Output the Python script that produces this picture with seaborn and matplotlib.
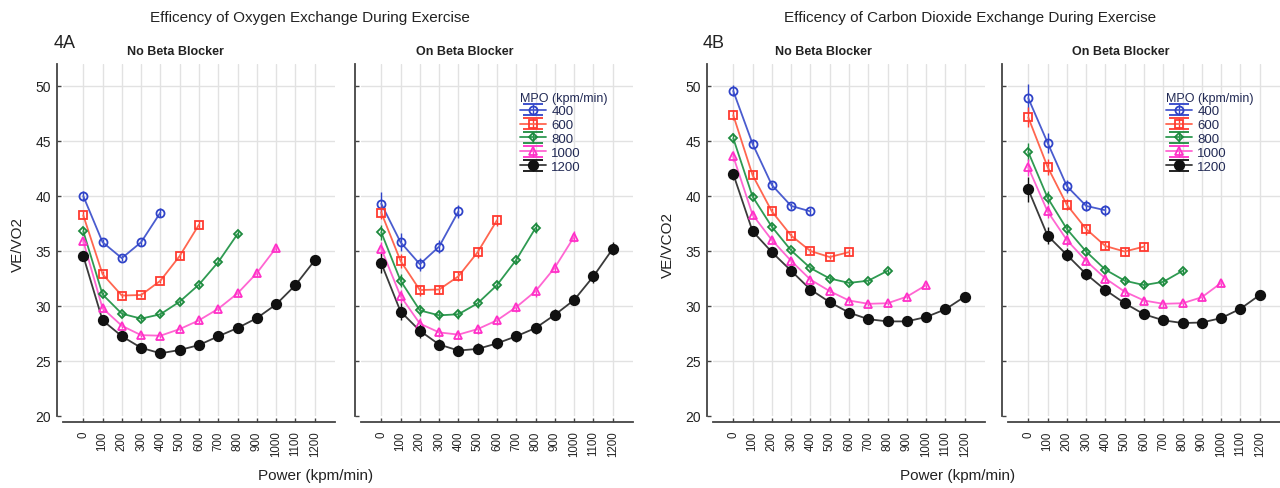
import numpy as np
import pandas as pd
import matplotlib
matplotlib.use("Agg")
import matplotlib.pyplot as plt
from matplotlib.container import ErrorbarContainer
from matplotlib.legend_handler import HandlerErrorbar
import seaborn as sns

# ---------------- data ----------------
power_ticks = [0, 100, 200, 300, 400, 500, 600, 700, 800, 900, 1000, 1100, 1200]
mpo_levels = [400, 600, 800, 1000, 1200]

# 4A  VE/VO2, no beta blocker
a_no_400 = [40.0, 35.8, 34.35, 35.8, 38.5]
a_no_600 = [38.25, 32.9, 30.95, 31.0, 32.3, 34.55, 37.4]
a_no_800 = [36.8, 31.05, 29.3, 28.85, 29.25, 30.4, 31.95, 34.0, 36.55]
a_no_1000 = [35.9, 29.8, 28.2, 27.35, 27.3, 27.9, 28.7, 29.75, 31.15, 33.0, 35.3]
a_no_1200 = [34.55, 28.7, 27.25, 26.2, 25.7, 26.0, 26.45, 27.25, 28.0, 28.9, 30.15, 31.9, 34.15]
# 4A  VE/VO2, on beta blocker
a_on_400 = [39.3, 35.8, 33.8, 35.4, 38.6]
a_on_600 = [38.5, 34.1, 31.45, 31.5, 32.7, 34.9, 37.8]
a_on_800 = [36.7, 32.3, 29.6, 29.15, 29.25, 30.25, 31.9, 34.2, 37.1]
a_on_1000 = [35.2, 30.9, 28.4, 27.6, 27.4, 27.9, 28.7, 29.9, 31.35, 33.5, 36.3]
a_on_1200 = [33.9, 29.5, 27.75, 26.5, 25.95, 26.1, 26.6, 27.25, 28.0, 29.2, 30.55, 32.7, 35.2]
# 4B  VE/VCO2, no beta blocker
b_no_400 = [49.55, 44.75, 41.0, 39.1, 38.6]
b_no_600 = [47.35, 41.9, 38.6, 36.4, 35.0, 34.45, 34.9]
b_no_800 = [45.25, 39.95, 37.2, 35.05, 33.45, 32.5, 32.1, 32.3, 33.2]
b_no_1000 = [43.6, 38.3, 36.0, 34.1, 32.4, 31.35, 30.5, 30.2, 30.25, 30.85, 31.9]
b_no_1200 = [42.0, 36.8, 34.9, 33.2, 31.5, 30.35, 29.4, 28.8, 28.6, 28.6, 29.0, 29.7, 30.85]
# 4B  VE/VCO2, on beta blocker
b_on_400 = [48.9, 44.85, 40.9, 39.1, 38.7]
b_on_600 = [47.15, 42.65, 39.2, 37.0, 35.45, 34.95, 35.4]
b_on_800 = [44.0, 39.85, 37.0, 34.95, 33.3, 32.3, 31.9, 32.2, 33.2]
b_on_1000 = [42.6, 38.6, 36.0, 34.1, 32.5, 31.3, 30.5, 30.2, 30.25, 30.8, 32.1]
b_on_1200 = [40.6, 36.4, 34.65, 32.9, 31.45, 30.25, 29.25, 28.7, 28.45, 28.5, 28.9, 29.75, 31.0]

# standard errors (estimated)
a_no_err_400 = [0.45, 0.3, 0.3, 0.3, 0.4]
a_no_err_600 = [0.35, 0.25, 0.2, 0.2, 0.2, 0.25, 0.3]
a_no_err_800 = [0.35, 0.25, 0.2, 0.2, 0.2, 0.2, 0.2, 0.25, 0.3]
a_no_err_1000 = [0.35, 0.25, 0.2, 0.2, 0.2, 0.2, 0.2, 0.2, 0.25, 0.25, 0.3]
a_no_err_1200 = [0.4, 0.3, 0.25, 0.2, 0.2, 0.2, 0.2, 0.2, 0.2, 0.25, 0.25, 0.3, 0.3]
a_on_err_400 = [1.1, 0.8, 0.6, 0.6, 0.6]
a_on_err_600 = [0.6, 0.6, 0.5, 0.4, 0.4, 0.5, 0.5]
a_on_err_800 = [0.7, 0.6, 0.5, 0.4, 0.4, 0.4, 0.4, 0.4, 0.5]
a_on_err_1000 = [0.6, 0.6, 0.5, 0.4, 0.4, 0.4, 0.4, 0.4, 0.5, 0.5, 0.5]
a_on_err_1200 = [0.9, 0.8, 0.7, 0.5, 0.5, 0.5, 0.5, 0.5, 0.5, 0.5, 0.5, 0.6, 0.6]
b_no_err_400 = [0.5, 0.4, 0.3, 0.3, 0.3]
b_no_err_600 = [0.45, 0.35, 0.3, 0.25, 0.25, 0.2, 0.25]
b_no_err_800 = [0.45, 0.35, 0.3, 0.25, 0.2, 0.2, 0.2, 0.2, 0.25]
b_no_err_1000 = [0.45, 0.35, 0.3, 0.25, 0.2, 0.2, 0.2, 0.2, 0.2, 0.2, 0.25]
b_no_err_1200 = [0.5, 0.35, 0.3, 0.25, 0.25, 0.2, 0.2, 0.2, 0.2, 0.2, 0.2, 0.25, 0.25]
b_on_err_400 = [1.3, 0.9, 0.6, 0.5, 0.5]
b_on_err_600 = [0.9, 0.7, 0.5, 0.5, 0.4, 0.4, 0.4]
b_on_err_800 = [0.8, 0.6, 0.5, 0.4, 0.4, 0.3, 0.3, 0.3, 0.3]
b_on_err_1000 = [0.8, 0.6, 0.5, 0.4, 0.4, 0.3, 0.3, 0.3, 0.3, 0.3, 0.3]
b_on_err_1200 = [1.1, 0.8, 0.6, 0.5, 0.5, 0.4, 0.4, 0.4, 0.4, 0.4, 0.4, 0.4, 0.4]

panel_titles = ["No Beta Blocker", "On Beta Blocker"]
figure_titles = ["Efficency of Oxygen Exchange During Exercise",
                 "Efficency of Carbon Dioxide Exchange During Exercise"]
figure_tags = ["4A", "4B"]
y_labels = ["VE/VO2", "VE/VCO2"]
x_label = "Power (kpm/min)"
legend_title = "MPO (kpm/min)"
y_ticks = [20, 25, 30, 35, 40, 45, 50]

panels = {
    ("A", "no"): ([a_no_400, a_no_600, a_no_800, a_no_1000, a_no_1200],
                  [a_no_err_400, a_no_err_600, a_no_err_800, a_no_err_1000, a_no_err_1200]),
    ("A", "on"): ([a_on_400, a_on_600, a_on_800, a_on_1000, a_on_1200],
                  [a_on_err_400, a_on_err_600, a_on_err_800, a_on_err_1000, a_on_err_1200]),
    ("B", "no"): ([b_no_400, b_no_600, b_no_800, b_no_1000, b_no_1200],
                  [b_no_err_400, b_no_err_600, b_no_err_800, b_no_err_1000, b_no_err_1200]),
    ("B", "on"): ([b_on_400, b_on_600, b_on_800, b_on_1000, b_on_1200],
                  [b_on_err_400, b_on_err_600, b_on_err_800, b_on_err_1000, b_on_err_1200]),
}

# ---------------- style ----------------
sns.set_theme(style="white")
plt.rcParams["font.family"] = ["Liberation Sans", "DejaVu Sans"]

colors = {400: "#2f43c8", 600: "#ff3a30", 800: "#1d8a3e", 1000: "#ff30c8", 1200: "#111111"}
line_colors = {400: "#4a5ccf", 600: "#ff6650", 800: "#2f9a52", 1000: "#ff66d2", 1200: "#3a3a3a"}
markers = {400: "o", 600: "s", 800: "D", 1000: "^", 1200: "o"}
msizes = {400: 5.8, 600: 5.5, 800: 4.5, 1000: 5.8, 1200: 6.8}
filled = {400: False, 600: False, 800: False, 1000: False, 1200: True}

W, H = 1280, 489
fig = plt.figure(figsize=(W / 100, H / 100), dpi=100)

ax_px_w = 272
ax_top, ax_bot = 65, 417
lefts = {("A", "no"): 63, ("A", "on"): 361, ("B", "no"): 713, ("B", "on"): 1008}

spine_col = "#444444"
grid_col = "#e2e2e2"
text_col = "#222222"

axes = {}
for key, left in lefts.items():
    ax = fig.add_axes([left / W, 1 - ax_bot / H, ax_px_w / W, (ax_bot - ax_top) / H])
    axes[key] = ax
    series, errs = panels[key]
    rows = []
    for mpo, vals in zip(mpo_levels, series):
        for p, v in zip(power_ticks, vals):
            rows.append({"power": p, "value": v, "mpo": mpo})
    df = pd.DataFrame(rows)

    # grid
    for yt in y_ticks[1:]:
        ax.axhline(yt, color=grid_col, lw=1.0, zorder=0)
    for xt in power_ticks:
        ax.axvline(xt, color=grid_col, lw=1.0, zorder=0)

    # error bars
    for mpo, vals, err in zip(mpo_levels, series, errs):
        xs = power_ticks[:len(vals)]
        ax.errorbar(xs, vals, yerr=err, fmt="none", ecolor=colors[mpo],
                    elinewidth=1.0, capsize=0, zorder=2)

    # lines with markers via seaborn
    for mpo in mpo_levels:
        sub = df[df["mpo"] == mpo]
        sns.lineplot(data=sub, x="power", y="value", ax=ax, color=line_colors[mpo],
                     lw=1.3, legend=False, zorder=3, errorbar=None)
        ax.plot(sub["power"], sub["value"], ls="none", marker=markers[mpo],
                ms=msizes[mpo], mec=colors[mpo], mew=1.3,
                mfc=colors[mpo] if filled[mpo] else "none", zorder=4)

    ax.set_xlim(-105, 1305)
    ax.set_ylim(20, 52)
    ax.set_xticks(power_ticks)
    ax.set_xticklabels([str(t) for t in power_ticks])
    ax.set_yticks(y_ticks)
    if key[1] == "no":
        ax.set_yticklabels([str(t) for t in y_ticks])
    else:
        ax.set_yticklabels([])
    ax.set_xlabel("")
    ax.set_ylabel("")
    ax.grid(False)
    sns.despine(ax=ax, offset=4.5)
    for s in ["left", "bottom"]:
        ax.spines[s].set_color(spine_col)
        ax.spines[s].set_linewidth(1.3)
    ax.tick_params(axis="both", direction="in", length=3, width=1.0, color=spine_col,
                   pad=4, left=True, bottom=True, labelcolor=text_col)
    ax.tick_params(axis="x", pad=6, labelrotation=90, labelsize=8.3)
    ax.tick_params(axis="y", labelsize=10)

    # legend on the "on beta blocker" panels
    if key[1] == "on":
        handles = []
        for mpo in mpo_levels:
            h = ax.errorbar([np.nan], [np.nan], yerr=[np.nan], color=line_colors[mpo],
                            ecolor=colors[mpo], marker=markers[mpo], ms=msizes[mpo],
                            mec=colors[mpo], mew=1.3,
                            mfc=colors[mpo] if filled[mpo] else "none",
                            lw=1.3, elinewidth=1.0, capsize=7)
            handles.append(h)
        leg_left = 513 if key[0] == "A" else 1159
        leg = ax.legend(handles, [str(m) for m in mpo_levels], title=legend_title,
                        loc="upper left", bbox_to_anchor=(leg_left / W, 1 - 86 / H),
                        bbox_transform=fig.transFigure, frameon=False, fontsize=9.5,
                        title_fontsize=9, borderpad=0, labelspacing=0.12,
                        handlelength=2.0, handletextpad=0.4, alignment="left",
                        handler_map={ErrorbarContainer: HandlerErrorbar(yerr_size=0.42)})
        leg.get_title().set_color("#222a55")
        for t in leg.get_texts():
            t.set_color("#222a55")

# ---------------- texts ----------------
fig.text(310 / W, 1 - 18 / H, figure_titles[0], ha="center", va="center", fontsize=11, color=text_col)
fig.text(970 / W, 1 - 18 / H, figure_titles[1], ha="center", va="center", fontsize=11, color=text_col)
fig.text(54 / W, 1 - 44 / H, figure_tags[0], ha="left", va="center", fontsize=13, color=text_col)
fig.text(703 / W, 1 - 44 / H, figure_tags[1], ha="left", va="center", fontsize=13, color=text_col)
for cx, t in [(175, panel_titles[0]), (465, panel_titles[1]), (823, panel_titles[0]), (1121, panel_titles[1])]:
    fig.text(cx / W, 1 - 52 / H, t, ha="center", va="center", fontsize=9, fontweight="bold", color=text_col)
fig.text(18 / W, 1 - 245 / H, y_labels[0], rotation=90, ha="center", va="center", fontsize=11, color=text_col)
fig.text(668 / W, 1 - 245 / H, y_labels[1], rotation=90, ha="center", va="center", fontsize=11, color=text_col)
fig.text(316 / W, 1 - 476 / H, x_label, ha="center", va="center", fontsize=11, color=text_col)
fig.text(958 / W, 1 - 476 / H, x_label, ha="center", va="center", fontsize=11, color=text_col)

fig.savefig("out.png", dpi=100, facecolor="white")
